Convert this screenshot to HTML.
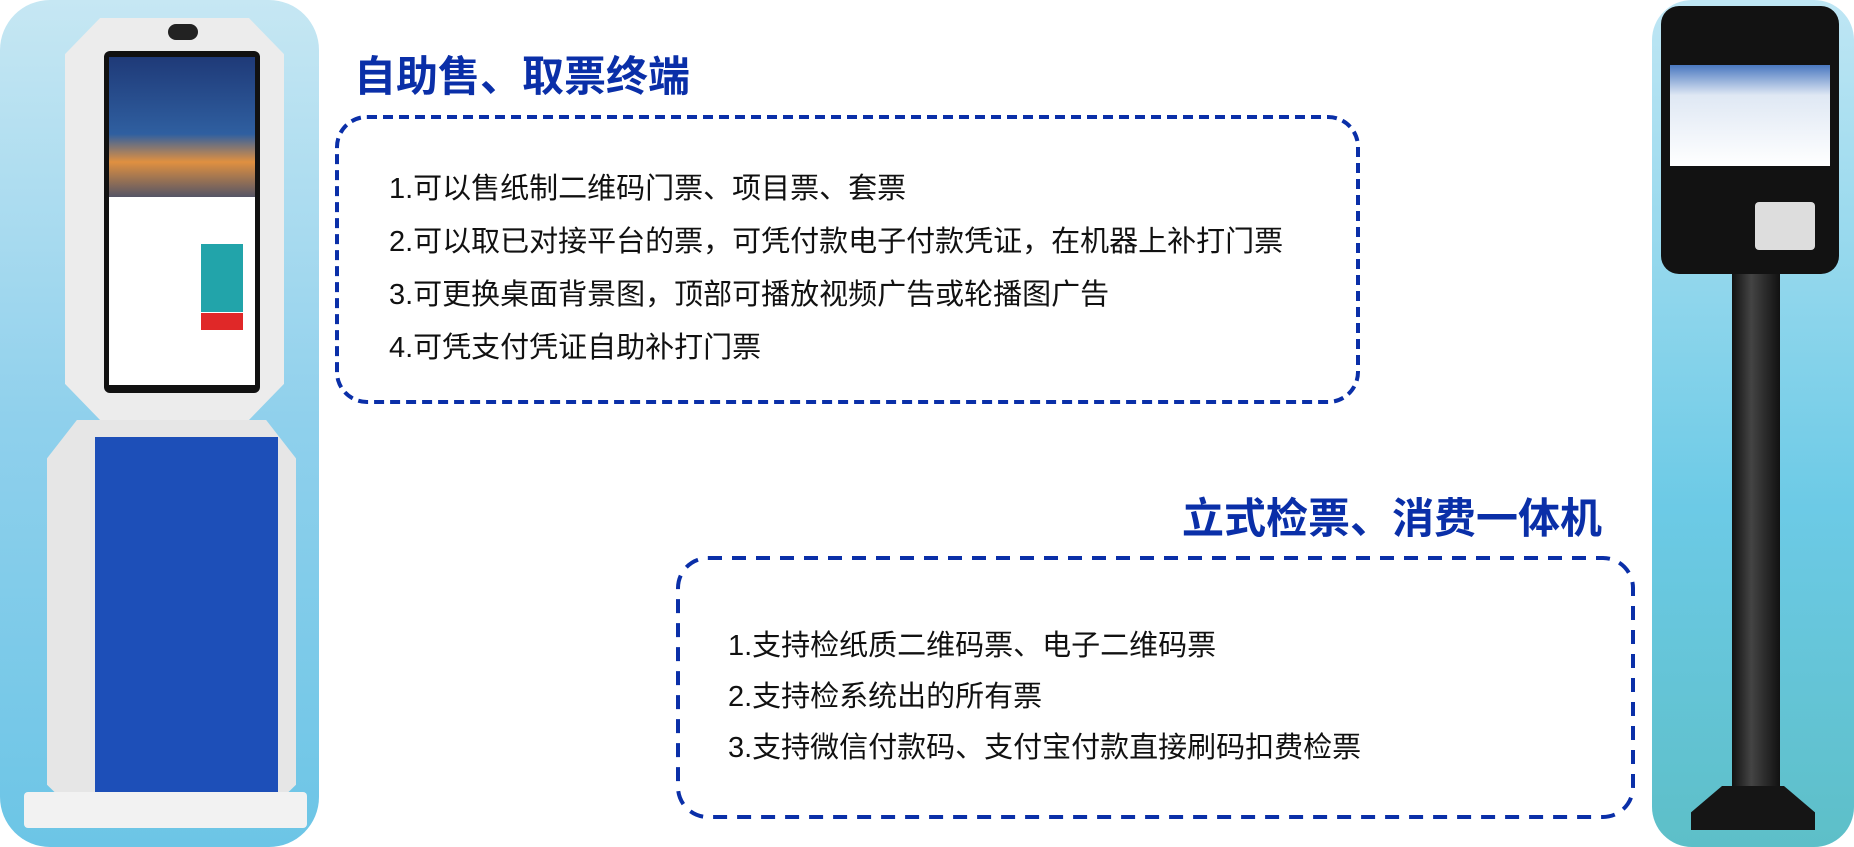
<!DOCTYPE html>
<html><head><meta charset="utf-8"><style>
body{margin:0;width:1854px;height:847px;background:#fff;position:relative;overflow:hidden;font-family:"Liberation Sans","Noto Sans CJK SC",sans-serif}
.abs{position:absolute}
.title{color:#0a2fa8;font-weight:bold;font-size:42px;white-space:nowrap;line-height:1}
.t{font-size:29px;color:#111;white-space:nowrap;line-height:1}
</style></head><body>
<div class="abs" style="left:0;top:0;width:319px;height:847px;border-radius:50px;background:linear-gradient(#c6e7f3,#8fd0ec 50%,#6cc5e6)"></div>
<div class="abs" style="left:1652px;top:0;width:202px;height:847px;border-radius:40px;background:linear-gradient(#bfe6f4,#6ccae6 60%,#5dbfc8)"></div>
<!-- left kiosk -->
<div class="abs" style="left:65px;top:18px;width:219px;height:402px;background:#ececec;clip-path:polygon(16% 0,84% 0,100% 9%,100% 91%,84% 100%,16% 100%,0 91%,0 9%)"></div>
<div class="abs" style="left:168px;top:24px;width:30px;height:16px;background:#222;border-radius:8px"></div>
<div class="abs" style="left:104px;top:51px;width:156px;height:342px;background:#111;border-radius:6px"></div>
<div class="abs" style="left:109px;top:57px;width:146px;height:140px;background:linear-gradient(#1f3a78,#2f5fa0 55%,#e09040 75%,#556 100%)"></div>
<div class="abs" style="left:109px;top:197px;width:146px;height:188px;background:#fff"></div>
<div class="abs" style="left:201px;top:244px;width:42px;height:68px;background:#22a4aa"></div>
<div class="abs" style="left:201px;top:313px;width:42px;height:17px;background:#e02828"></div>
<div class="abs" style="left:47px;top:420px;width:249px;height:384px;background:#e6e6e6;clip-path:polygon(12% 0,88% 0,100% 10%,100% 95%,92% 100%,8% 100%,0 95%,0 10%)"></div>
<div class="abs" style="left:95px;top:437px;width:183px;height:367px;background:#1d4fb8"></div>
<div class="abs" style="left:24px;top:792px;width:283px;height:36px;background:#f2f2f2;border-radius:4px"></div>
<!-- right device -->
<div class="abs" style="left:1732px;top:274px;width:48px;height:520px;background:linear-gradient(90deg,#111,#444 40%,#111)"></div>
<div class="abs" style="left:1691px;top:786px;width:124px;height:44px;background:#151515;clip-path:polygon(25% 0,75% 0,100% 60%,100% 100%,0 100%,0 60%)"></div>
<div class="abs" style="left:1661px;top:6px;width:178px;height:268px;background:#121212;border-radius:18px"></div>
<div class="abs" style="left:1670px;top:65px;width:160px;height:101px;background:linear-gradient(#4a78c0,#dfe8f4 30%,#fff)"></div>
<div class="abs" style="left:1755px;top:202px;width:60px;height:48px;background:#ddd;border-radius:4px"></div>
<!-- boxes -->
<svg class="abs" style="left:0;top:0" width="1854" height="847">
<rect x="337" y="117" width="1021" height="285" rx="30" fill="none" stroke="#0a2fa8" stroke-width="4" stroke-dasharray="10 6"/>
<rect x="678" y="558" width="955" height="259" rx="30" fill="none" stroke="#0a2fa8" stroke-width="4" stroke-dasharray="14 10"/>
</svg>
<div class="abs title" style="left:354px;top:56px">自助售、取票终端</div>
<div class="abs t" style="left:389px;top:175px">1.可以售纸制二维码门票、项目票、套票</div>
<div class="abs t" style="left:389px;top:228px">2.可以取已对接平台的票，可凭付款电子付款凭证，在机器上补打门票</div>
<div class="abs t" style="left:389px;top:281px">3.可更换桌面背景图，顶部可播放视频广告或轮播图广告</div>
<div class="abs t" style="left:389px;top:334px">4.可凭支付凭证自助补打门票</div>
<div class="abs title" style="left:1182px;top:498px">立式检票、消费一体机</div>
<div class="abs t" style="left:728px;top:632px">1.支持检纸质二维码票、电子二维码票</div>
<div class="abs t" style="left:728px;top:683px">2.支持检系统出的所有票</div>
<div class="abs t" style="left:728px;top:734px">3.支持微信付款码、支付宝付款直接刷码扣费检票</div>
</body></html>
